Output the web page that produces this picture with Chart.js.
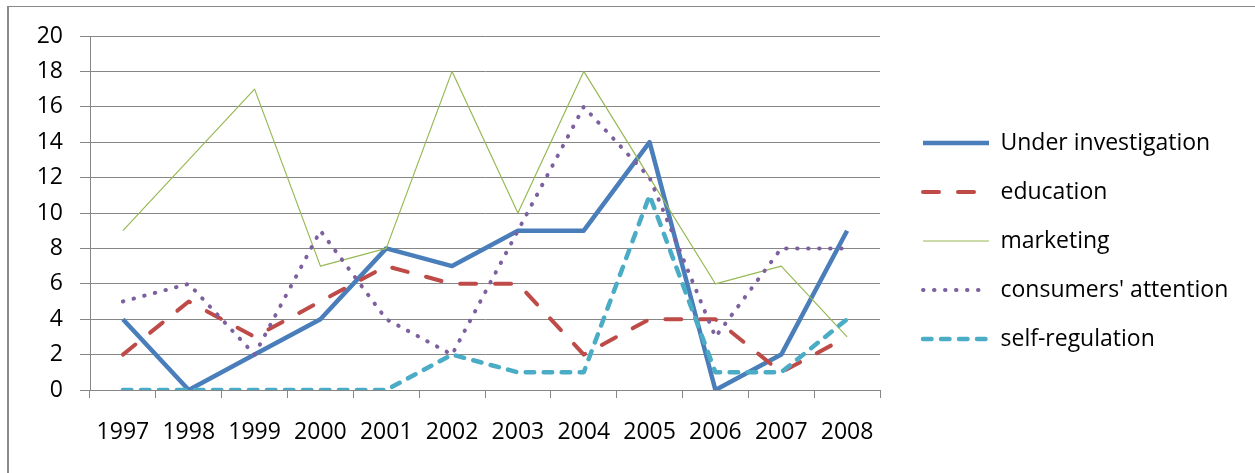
<!DOCTYPE html>
<html>
<head>
<meta charset="utf-8">
<script src="https://cdn.jsdelivr.net/npm/chart.js@4"></script>
<style>
  html, body { margin: 0; padding: 0; background: #fff; }
  #wrap { position: relative; width: 1255px; height: 473px; overflow: hidden; }
  #frame { position: absolute; left: 7px; top: 6px; right: -2px; bottom: -2px;
           border-left: 2px solid #8a8a8a; border-top: 1px solid #8a8a8a; }
  canvas { position: absolute; left: 0; top: 0; }
</style>
</head>
<body>
<div id="wrap">
  <div id="frame"></div>
  <canvas id="chart" width="1255" height="473"></canvas>
</div>
<script>
const years = ['1997', '1998', '1999', '2000', '2001', '2002', '2003', '2004', '2005', '2006', '2007', '2008'];

const underInvestigation = [4, 0, 2, 4, 8, 7, 9, 9, 14, 0, 2, 9];
const education = [2, 5, 3, 5, 7, 6, 6, 2, 4, 4, 1, 3];
const marketing = [9, 13, 17, 7, 8, 18, 10, 18, 12, 6, 7, 3];
const consumersAttention = [5, 6, 2, 9, 4, 2, 9, 16, 12, 3, 8, 8];
const selfRegulation = [0, 0, 0, 0, 0, 2, 1, 1, 11, 1, 1, 4];

const gridGray = '#868686';
const font = { family: "'Open Sans', sans-serif", size: 23 };

// layout caps side boxes at a fraction of the width, legend needs more room than that
const wideLegend = {
    id: 'wideLegend',
    beforeLayout(chart) {
        const lg = chart.legend;
        if (!lg || lg._wide) return;
        const fit = lg.fit;
        lg.fit = function() {
            fit.call(this);
            this.width = 341;
        };
        lg._wide = true;
    }
};

// excel draws later series on top, chart.js does the reverse -> flip order, flip legend back
new Chart(document.getElementById('chart'), {
    type: 'line',
    data: {
        labels: years,
        datasets: [
            {
                label: 'Under investigation',
                data: underInvestigation,
                borderColor: '#4a7ebb',
                backgroundColor: '#4a7ebb',
                borderWidth: 4.5,
                order: 4
            },
            {
                label: 'education',
                data: education,
                borderColor: '#be4b48',
                backgroundColor: '#be4b48',
                borderWidth: 4,
                borderDash: [16, 19],
                borderCapStyle: 'round',
                order: 3
            },
            {
                label: 'marketing',
                data: marketing,
                borderColor: '#98b954',
                backgroundColor: '#98b954',
                borderWidth: 1.2,
                order: 2
            },
            {
                label: "consumers' attention",
                data: consumersAttention,
                borderColor: '#7d60a0',
                backgroundColor: '#7d60a0',
                borderWidth: 4,
                borderDash: [0.5, 10.5],
                borderCapStyle: 'round',
                order: 1
            },
            {
                label: 'self-regulation',
                data: selfRegulation,
                borderColor: '#4bacc6',
                backgroundColor: '#4bacc6',
                borderWidth: 4.5,
                borderDash: [8.5, 9.5],
                borderCapStyle: 'round',
                order: 0
            }
        ]
    },
    options: {
        responsive: false,
        animation: false,
        elements: {
            point: { radius: 0, hoverRadius: 0 },
            line: { tension: 0, borderJoinStyle: 'round' }
        },
        layout: {
            padding: { top: 36, right: 17, bottom: 27, left: 0 }
        },
        scales: {
            x: {
                offset: true,
                grid: {
                    offset: true,
                    drawOnChartArea: false,
                    tickLength: 8,
                    color: gridGray
                },
                border: { color: gridGray },
                ticks: { color: '#000', font: font, padding: 21, maxRotation: 0 },
                afterFit: s => { s.height = 56; }
            },
            y: {
                min: 0,
                max: 20,
                grid: { color: gridGray, tickLength: 10 },
                border: { color: gridGray },
                ticks: { stepSize: 2, color: '#000', font: font, padding: 17 },
                afterFit: s => { s.width = 90; }
            },
            // empty spacer between plot and legend
            gap: {
                position: 'right',
                display: true,
                grid: { display: false, drawTicks: false },
                border: { display: false },
                ticks: { display: false },
                afterFit: s => { s.width = 17; }
            }
        },
        plugins: {
            tooltip: { enabled: false },
            legend: {
                position: 'right',
                reverse: true,
                labels: {
                    usePointStyle: true,
                    pointStyle: 'line',
                    pointStyleWidth: 66,
                    padding: 26,
                    color: '#000',
                    font: font,
                    generateLabels(chart) {
                        const items = Chart.defaults.plugins.legend.labels.generateLabels(chart);
                        items.forEach(it => {
                            const ds = chart.data.datasets[it.datasetIndex];
                            it.lineDash = ds.borderDash || [];
                            it.lineCap = ds.borderCapStyle || 'butt';
                            it.lineWidth = ds.borderWidth;
                            it.strokeStyle = ds.borderColor;
                        });
                        return items;
                    }
                }
            }
        }
    },
    plugins: [wideLegend]
});
</script>
</body>
</html>
